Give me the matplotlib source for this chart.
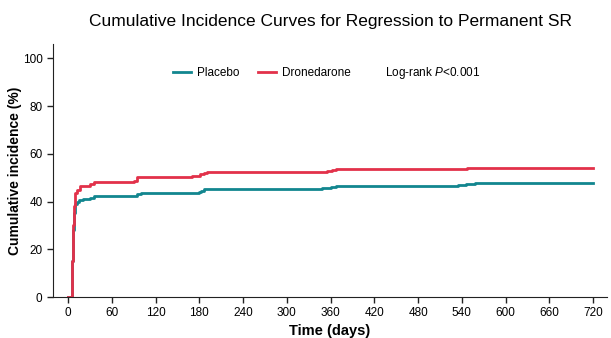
import matplotlib
matplotlib.use('Agg')
import matplotlib.pyplot as plt

plt.rcParams['font.family'] = ['Liberation Sans', 'DejaVu Sans']
plt.rcParams['mathtext.fontset'] = 'custom'
plt.rcParams['mathtext.rm'] = 'Liberation Sans'
plt.rcParams['mathtext.it'] = 'Liberation Sans:italic'

# cumulative incidence (%) step data
placebo_days = [0, 3.7, 5, 6, 7, 8, 9, 10, 12, 15, 20, 30, 35, 90, 94, 100, 179, 183, 187,
                348, 360, 368, 535, 545, 558, 720]
placebo_pct = [0, 0, 5, 15, 28, 35, 37, 39, 40, 40.8, 41, 41.5, 42.2, 42.5, 43.2, 43.6, 44, 44.6, 45.2,
               45.6, 46, 46.6, 47, 47.3, 47.6, 47.6]
drone_days = [0, 4, 5, 6, 7, 8, 9, 10, 12, 16, 25, 30, 35, 90, 94, 170, 181, 186, 190,
              355, 362, 368, 375, 547, 720]
drone_pct = [0, 0, 8, 15, 30, 38, 42, 43.7, 45, 46.3, 46.6, 47.5, 48, 48.5, 50.3, 50.8, 51.5, 52, 52.3,
             52.8, 53.2, 53.5, 53.7, 54.1, 54.1]

xticks = list(range(0, 721, 60))
yticks = list(range(0, 101, 20))

teal = '#12868f'
red = '#e2314a'

fig = plt.figure(figsize=(6.11, 3.38), dpi=100, facecolor='white')
ax = fig.add_axes([0.0867, 0.1213, 0.9068, 0.7485])

ax.step(placebo_days, placebo_pct, where='post', color=teal, lw=2, label='Placebo')
ax.step(drone_days, drone_pct, where='post', color=red, lw=2, label='Dronedarone')

ax.set_xlim(-20.6, 739)
ax.set_ylim(0, 106)
ax.set_xticks(xticks)
ax.set_yticks(yticks)
ax.tick_params(labelsize=8.5, length=4, width=1, color='#222222')
for s in ['top', 'right']:
    ax.spines[s].set_visible(False)
for s in ['left', 'bottom']:
    ax.spines[s].set_color('#222222')

ax.set_xlabel('Time (days)', fontsize=10.5, fontweight='bold', labelpad=3)
ax.set_ylabel('Cumulative incidence (%)', fontsize=10, fontweight='bold')
ax.yaxis.set_label_coords(-0.056, 0.5)
ax.set_title('Cumulative Incidence Curves for Regression to Permanent SR', fontsize=12.5, pad=13)

ax.legend(loc='center left', bbox_to_anchor=(0.209, 0.885), frameon=False, ncol=2,
          fontsize=8.5, handlelength=1.5, columnspacing=1.6, handletextpad=0.5, borderaxespad=0)
ax.text(0.6, 0.885, 'Log-rank $\\mathit{P}$<0.001', transform=ax.transAxes,
        fontsize=8.5, va='center', ha='left')

fig.savefig('out.png', dpi=100, facecolor='white')
